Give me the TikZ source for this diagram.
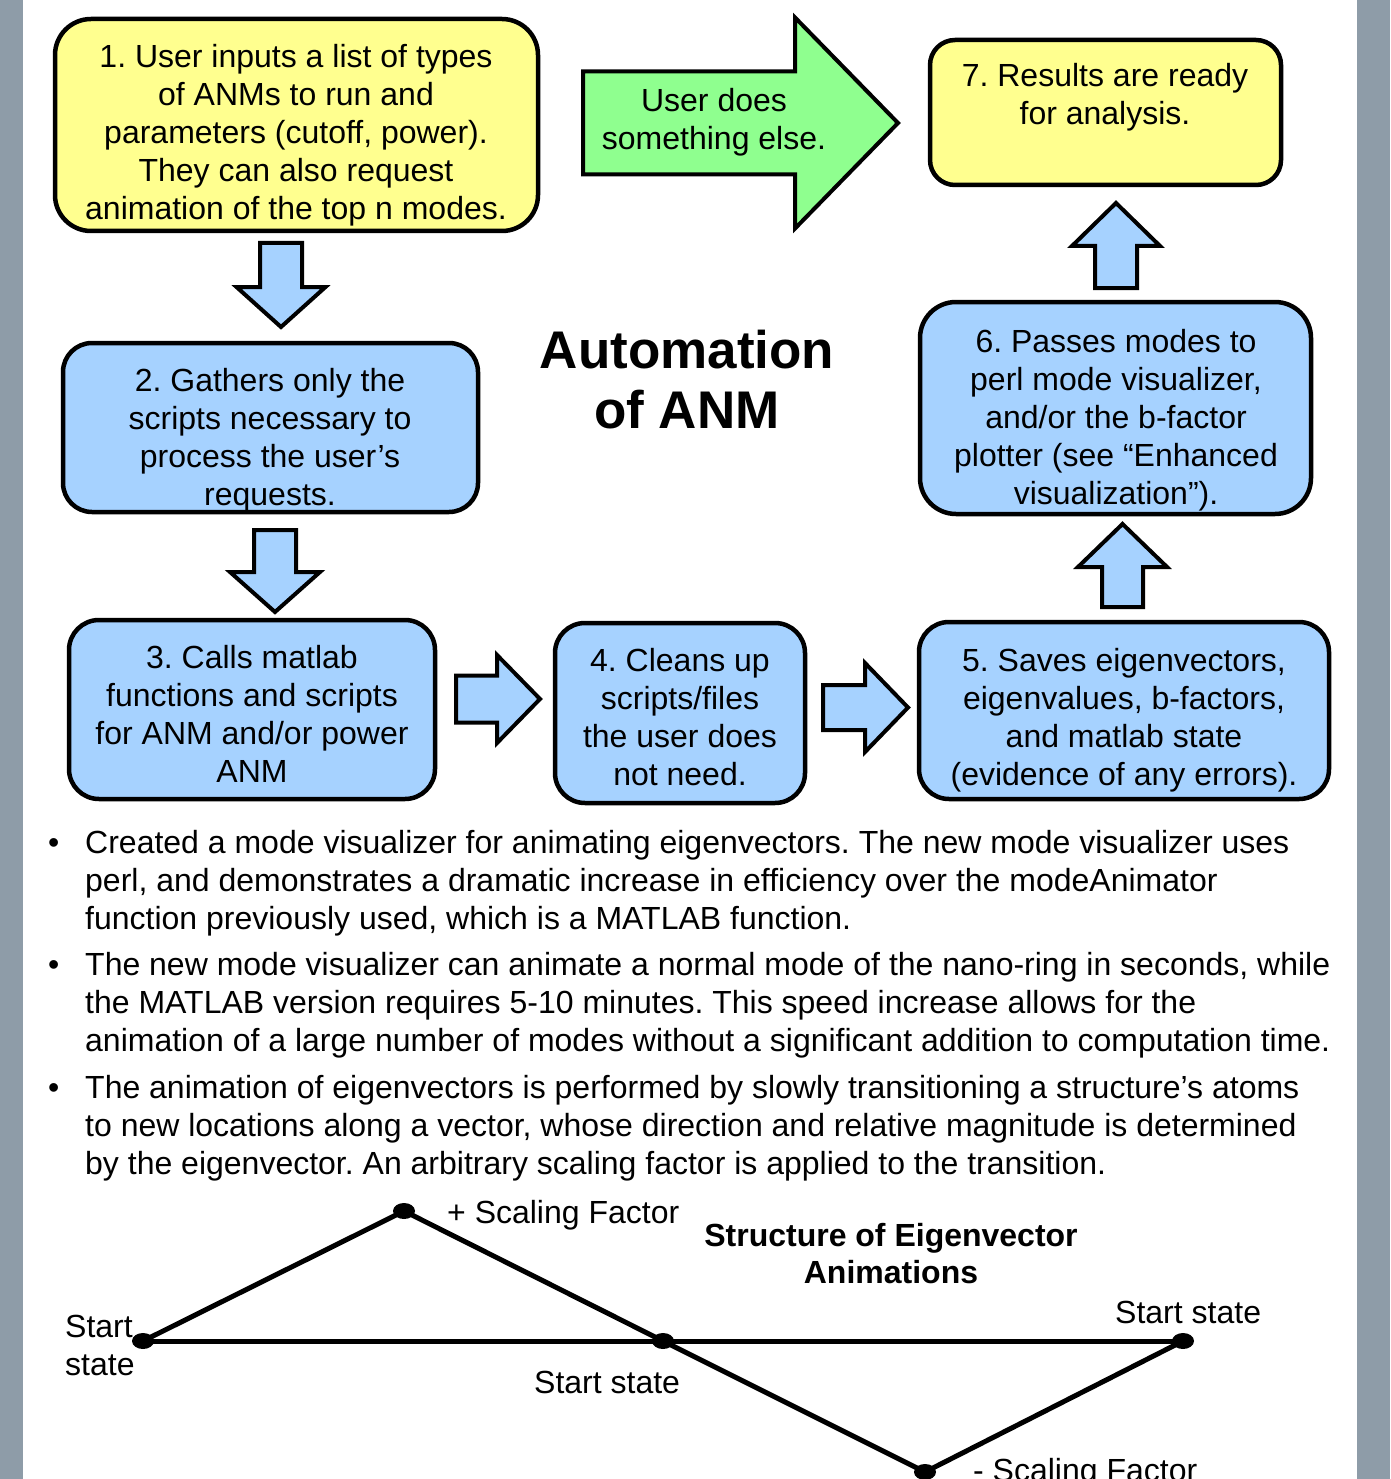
\documentclass[tikz,border=0pt]{standalone}
\usepackage{fontspec}
\setmainfont{Liberation Sans}
\usetikzlibrary{shapes.geometric}
\frenchspacing
\definecolor{bgray}{HTML}{8E9CA8}
\definecolor{yfill}{HTML}{FFFF8F}
\definecolor{bfill}{HTML}{A6D2FF}
\definecolor{gfill}{HTML}{8FFF8F}
% block arrow along y: cx, start, head base, tip, shaft half, head half
\newcommand\myVArrow[7][bfill]{%
  \draw[blockarrow, fill=#1] ({#2-#6},#3) -- ({#2+#6},#3) -- ({#2+#6},#4) -- ({#2+#7},#4) -- (#2,#5) -- ({#2-#7},#4) -- ({#2-#6},#4) -- cycle;}
% block arrow along x: cy, start, head base, tip, shaft half, head half
\newcommand\myHArrow[7][bfill]{%
  \draw[blockarrow, fill=#1] (#3,{#2-#6}) -- (#4,{#2-#6}) -- (#4,{#2-#7}) -- (#5,#2) -- (#4,{#2+#7}) -- (#4,{#2+#6}) -- (#3,{#2+#6}) -- cycle;}
\begin{document}
\begin{tikzpicture}[x=1pt,y=-1pt,
  box/.style={draw=black, line width=4.5pt, inner sep=0pt},
  ybox/.style={box, fill=yfill},
  bbox/.style={box, fill=bfill},
  txt/.style={font=\fontsize{32}{38}\selectfont\frenchspacing, align=center, inner sep=0pt},
  lbl/.style={font=\fontsize{32}{38}\selectfont, inner sep=0pt},
  blockarrow/.style={draw=black, line width=4pt, line join=miter},
  dotn/.style={ellipse, fill=black, minimum width=22pt, minimum height=16pt, inner sep=0pt},
  wire/.style={line width=5pt, line cap=round}
]
\useasboundingbox (0,0) rectangle (1390,1479);
\fill[white] (0,0) rectangle (1390,1479);
\fill[bgray] (0,0) rectangle (23,1479);
\fill[bgray] (1357,0) rectangle (1390,1479);

% boxes
\node[ybox, rounded corners=36pt, minimum width=483pt, minimum height=212pt] (b1) at (296.5,125) {};
\node[txt] (t1) at (296,136.4) {\strut 1. User inputs a list of types\\of ANMs to run and\\parameters (cutoff, power).\\They can also request\\animation of the top n modes.\strut};

\node[ybox, rounded corners=25pt, minimum width=351pt, minimum height=145pt] (b7) at (1105.5,112.5) {};
\node[txt] (t7) at (1105,98.4) {\strut 7. Results are ready\\for analysis.\strut};

\node[bbox, rounded corners=29pt, minimum width=415pt, minimum height=169pt] (b2) at (270.5,427.5) {};
\node[txt] (t2) at (270,440.4) {\strut 2. Gathers only the\\scripts necessary to\\process the user’s\\requests.\strut};

\node[bbox, rounded corners=30pt, minimum width=366pt, minimum height=179pt] (b3) at (252,709.5) {};
\node[txt] (t3) at (252,717.4) {\strut 3. Calls matlab\\functions and scripts\\for ANM and/or power\\ANM\strut};

\node[bbox, rounded corners=30pt, minimum width=250pt, minimum height=180pt] (b4) at (680,713) {};
\node[txt] (t4) at (680,720.4) {\strut 4. Cleans up\\scripts/files\\the user does\\not need.\strut};

\node[bbox, rounded corners=30pt, minimum width=410pt, minimum height=177pt] (b5) at (1124,710.5) {};
\node[txt] (t5) at (1124,720.4) {\strut 5. Saves eigenvectors,\\eigenvalues, b-factors,\\and matlab state\\(evidence of any errors).\strut};

\node[bbox, rounded corners=36pt, minimum width=391pt, minimum height=212pt] (b6) at (1115.5,408) {};
\node[txt] (t6) at (1116,420.4) {\strut 6. Passes modes to\\perl mode visualizer,\\and/or the b-factor\\plotter (see “Enhanced\\visualization”).\strut};

% block arrows
\myHArrow[gfill]{123}{583}{795}{898}{51.5}{105.5}
\node[txt] (tg) at (714,123.4) {\strut User does\\something else.\strut};
\myVArrow{281}{243}{287}{327}{21}{44.5}
\myVArrow{275}{530}{572}{612}{21}{45}
\myHArrow{699}{456}{497}{540}{23.5}{44}
\myHArrow{707.5}{823}{865}{908}{22.5}{44.5}
\myVArrow{1122.5}{607}{567}{524}{20.5}{44.5}
\myVArrow{1116}{288}{246}{203}{21}{44}

% title
\node[font=\bfseries\fontsize{53}{60}\selectfont, align=center, inner sep=0pt] (title) at (687,386) {\strut Automation\\of ANM\strut};

% bullets
\node[lbl, anchor=north west] (d1) at (48,826.4) {\strut •};
\node[txt, align=left, anchor=north west] (bul1) at (85,826.4) {\strut Created a mode visualizer for animating eigenvectors. The new mode visualizer uses\\perl, and demonstrates a dramatic increase in efficiency over the modeAnimator\\function previously used, which is a MATLAB function.\strut};
\node[lbl, anchor=north west] (d2) at (48,948.4) {\strut •};
\node[txt, align=left, anchor=north west] (bul2) at (85,948.4) {\strut The new mode visualizer can animate a normal mode of the nano-ring in seconds, while\\the MATLAB version requires 5-10 minutes. This speed increase allows for the\\animation of a large number of modes without a significant addition to computation time.\strut};
\node[lbl, anchor=north west] (d3) at (48,1071.4) {\strut •};
\node[txt, align=left, anchor=north west] (bul3) at (85,1071.4) {\strut The animation of eigenvectors is performed by slowly transitioning a structure’s atoms\\to new locations along a vector, whose direction and relative magnitude is determined\\by the eigenvector. An arbitrary scaling factor is applied to the transition.\strut};

% eigenvector animation diagram
\coordinate (c1) at (143,1341);
\coordinate (c2) at (404,1211);
\coordinate (c3) at (663,1341);
\coordinate (c4) at (1183,1341);
\coordinate (c5) at (925,1472);
\draw[wire] (c1) -- (c4);
\draw[wire] (c1) -- (c2) -- (c3) -- (c5) -- (c4);
\node[dotn] (p1) at (c1) {};
\node[dotn] (p2) at (c2) {};
\node[dotn] (p3) at (c3) {};
\node[dotn] (p4) at (c4) {};
\node[dotn] (p5) at (c5) {};

\node[lbl, anchor=base west] (lplus) at (447,1223) {+ Scaling Factor};
\node[lbl, anchor=base west] (lminus) at (973,1481) {- Scaling Factor};
\node[lbl, anchor=base west] (lmid) at (534,1393) {Start state};
\node[lbl, anchor=base west] (lright) at (1115,1323) {Start state};
\node[txt, align=left, anchor=north west] (lleft) at (65,1310.4) {\strut Start\\state\strut};
\node[font=\bfseries\fontsize{32}{37}\selectfont, align=center, inner sep=0pt] (stitle) at (891,1257.1) {\strut Structure of Eigenvector\\Animations\strut};
\end{tikzpicture}
\end{document}
